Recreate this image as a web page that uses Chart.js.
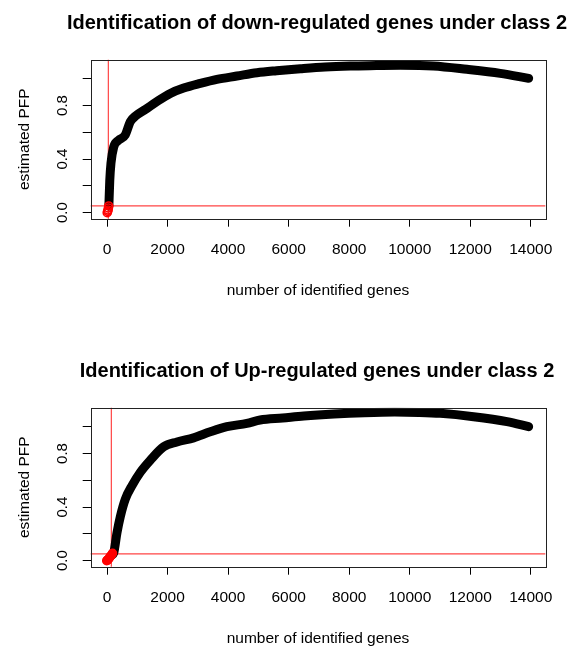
<!DOCTYPE html>
<html lang="en">
<head>
<meta charset="UTF-8">
<title>estimated PFP</title>
<script src="https://cdn.jsdelivr.net/npm/chart.js@4.4.1/dist/chart.umd.min.js"></script>
<style>
  html, body { margin: 0; background: #fff; overflow: hidden; width: 569px; height: 648px; }
  /* canvas is wider than the window so the full-width title centres over the plot box */
  .panel { position: absolute; left: 0; width: 634px; height: 300px; }
</style>
</head>
<body>
<div class="panel" style="top:0"><canvas id="down"></canvas></div>
<div class="panel" style="top:348px"><canvas id="up"></canvas></div>
<script>
// tick values / labels
const xTicks = [0, 2000, 4000, 6000, 8000, 10000, 12000, 14000];
const yTicks = [0, 0.2, 0.4, 0.6, 0.8, 1.0];
const yTickLabels = ['0.0', '', '0.4', '', '0.8', ''];

// down-regulated curve
const downX = [60, 90, 130, 220, 380, 600, 770, 935, 1265, 1650, 2090, 2530, 3080, 3630, 4290, 4955, 5600, 6390, 7200, 8040, 8900, 9690, 10780, 11890, 12990, 13930];
const downY = [0.05, 0.24, 0.37, 0.49, 0.54, 0.58, 0.68, 0.72, 0.77, 0.83, 0.89, 0.93, 0.965, 0.995, 1.02, 1.045, 1.06, 1.075, 1.088, 1.095, 1.098, 1.1, 1.095, 1.07, 1.04, 1.003];
const downRedX = [5, 20, 35, 45, 55];
const downRedY = [0.0, 0.01, 0.02, 0.035, 0.05];
const downCutX = 43;

// up-regulated curve
const upX = [150, 218, 330, 440, 605, 825, 1100, 1430, 1870, 2310, 2860, 3410, 3960, 4620, 5060, 5800, 6500, 7500, 8500, 9500, 10300, 11010, 12110, 13215, 13930];
const upY = [0.04, 0.056, 0.21, 0.33, 0.46, 0.56, 0.66, 0.75, 0.85, 0.886, 0.917, 0.962, 1.0, 1.025, 1.05, 1.065, 1.08, 1.095, 1.105, 1.11, 1.107, 1.1, 1.075, 1.038, 1.0];
const upRedX = [-10, 20, 60, 100, 140, 180];
const upRedY = [0.0, 0.005, 0.015, 0.03, 0.04, 0.055];
const upCutX = 142;

const pfpCutoff = 0.05;

const FONT = "'Liberation Sans', Arial, sans-serif";

const boxPlugin = {
  id: 'box',
  afterDraw(chart) {
    const a = chart.chartArea, c = chart.ctx;
    c.save();
    c.strokeStyle = '#222';
    c.lineWidth = 1;
    c.strokeRect(Math.round(a.left) + 0.5, Math.round(a.top) + 0.5,
                 Math.round(a.right - a.left), Math.round(a.bottom - a.top));
    c.restore();
  }
};

function pts(xs, ys) { return xs.map((x, i) => ({ x: x, y: ys[i] })); }

function makeChart(id, title, cx, cy, rx, ry, cutX, redFill) {
  new Chart(document.getElementById(id), {
    type: 'scatter',
    data: {
      datasets: [
        {
          data: pts(rx, ry),
          pointRadius: 4,
          pointBorderWidth: 1.6,
          pointBorderColor: '#ff0000',
          pointBackgroundColor: redFill ? '#ff0000' : 'rgba(255,255,255,0)'
        },
        {
          data: pts(cx, cy),
          showLine: true,
          borderColor: '#000',
          borderWidth: 9,
          borderCapStyle: 'round',
          borderJoinStyle: 'round',
          cubicInterpolationMode: 'monotone',
          pointRadius: 0
        },
        {
          data: [{ x: cutX, y: -1 }, { x: cutX, y: 2 }],
          showLine: true, borderColor: '#ff4545', borderWidth: 1.2, pointRadius: 0
        },
        {
          data: [{ x: -2000, y: pfpCutoff }, { x: 20000, y: pfpCutoff }],
          showLine: true, borderColor: '#ff4545', borderWidth: 1.2, pointRadius: 0
        }
      ]
    },
    options: {
      responsive: true,
      maintainAspectRatio: false,
      animation: false,
      events: [],
      layout: { autoPadding: false, padding: 0 },
      plugins: {
        legend: { display: false },
        tooltip: { enabled: false },
        title: {
          display: true,
          text: title,
          color: '#000',
          font: { family: FONT, size: 20, weight: 'bold', lineHeight: 1.2 },
          padding: { top: 11, bottom: 24.7 }
        }
      },
      scales: {
        x: {
          type: 'linear',
          min: -540, max: 14480,
          afterBuildTicks: s => { s.ticks = xTicks.map(v => ({ value: v })); },
          afterFit: s => { s.height = 81.3; },
          grid: { drawOnChartArea: false, drawTicks: true, tickLength: 8, tickColor: '#000' },
          border: { display: false },
          ticks: { color: '#000', padding: 14, font: { family: FONT, size: 15.5 }, maxRotation: 0, autoSkip: false,
                   callback: v => String(v) },
          title: { display: true, text: 'number of identified genes', color: '#000',
                   font: { family: FONT, size: 15.5 }, padding: { top: 0.7, bottom: 0 } }
        },
        y: {
          min: -0.045, max: 1.142,
          afterBuildTicks: s => { s.ticks = yTicks.map(v => ({ value: v })); },
          afterFit: s => { s.width = 90.7; },
          grid: { drawOnChartArea: false, drawTicks: true, tickLength: 8, tickColor: '#000' },
          border: { display: false },
          ticks: { color: '#000', padding: 9.5, crossAlign: 'center', minRotation: 90, maxRotation: 90,
                   autoSkip: false, font: { family: FONT, size: 15 },
                   callback: (v, i) => yTickLabels[i] },
          title: { display: true, text: 'estimated PFP', color: '#000',
                   font: { family: FONT, size: 15.5 }, padding: { top: 15.4, bottom: 0 } }
        },
        // empty right-hand margin of the plot
        yr: {
          display: true,
          position: 'right',
          min: 0, max: 1,
          afterFit: s => { s.width = 88.7; },
          grid: { display: false },
          border: { display: false },
          ticks: { display: false }
        }
      }
    },
    plugins: [boxPlugin]
  });
}

makeChart('down', 'Identification of down-regulated genes under class 2', downX, downY, downRedX, downRedY, downCutX, false);
makeChart('up', 'Identification of Up-regulated genes under class 2', upX, upY, upRedX, upRedY, upCutX, true);
</script>
</body>
</html>
